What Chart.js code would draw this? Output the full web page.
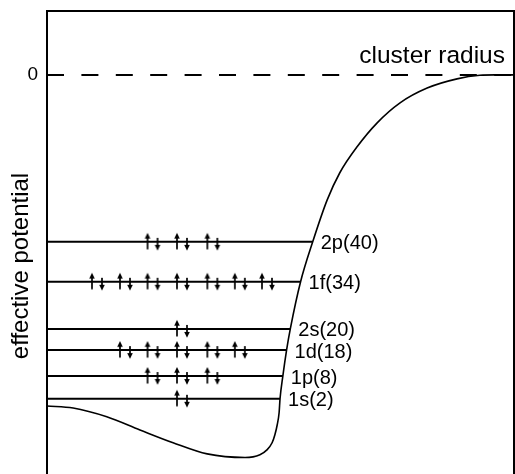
<!DOCTYPE html>
<html>
<head>
<meta charset="utf-8">
<script src="https://cdn.jsdelivr.net/npm/chart.js@4.4.0/dist/chart.umd.min.js"></script>
<style>
  html, body { margin: 0; padding: 0; background: #fff; overflow: hidden; }
  #wrap { width: 515px; height: 474px; overflow: hidden; }
</style>
</head>
<body>
<div id="wrap"><canvas id="myChart" width="515" height="521"></canvas></div>
<script>
// shells, lowest first
const levelNames = ['1s', '1p', '1d', '2s', '1f', '2p'];
const levelCounts = [2, 8, 18, 20, 34, 40];
const levelEnergy = [-81.1, -75.4, -68.9, -63.6, -51.8, -41.8];
const levelEdge = [49.9, 50.5, 51.3, 52.1, 54.3, 56.9];   // where the level meets the wall

// electron pairs drawn on each level (x positions)
const pairX = [
    [28.9],
    [22.6, 28.9, 35.4],
    [16.7, 22.6, 28.9, 35.4, 41.3],
    [28.9],
    [10.7, 16.7, 22.6, 28.9, 35.4, 41.3, 47.1],
    [22.6, 28.9, 35.4]
];

// effective potential vs radius
const radius = [0, 5.6, 12.8, 19.9, 27.0, 34.3, 42.4, 45.6, 47.1, 48.2, 48.8, 49.3, 49.7,
    49.9, 50.5, 51.3, 52.1, 54.3, 56.9, 60.0, 62.7, 66.4, 70.7, 75.6, 81.4, 87.8, 92.7, 95.9, 100];
const potential = [-82.9, -83.4, -85.6, -88.9, -92.1, -94.9, -95.8, -95.1, -93.9, -92.1, -90.1, -87.6, -84.6,
    -81.1, -75.4, -68.9, -63.6, -51.8, -41.8, -31.3, -24.5, -18.0, -12.0, -7.0, -3.3, -1.0, -0.1, 0, 0];

const yTicks = [0];
const FONT = "'Liberation Sans', Arial, sans-serif";

Chart.defaults.font.family = FONT;
Chart.defaults.color = '#000';

// the up/down arrow pair used as point style
function makePairIcon() {
    const c = document.createElement('canvas');
    c.width = 18;
    c.height = 20;
    const g = c.getContext('2d');
    g.strokeStyle = '#000';
    g.fillStyle = '#000';
    g.lineWidth = 1.7;
    // up arrow
    g.beginPath(); g.moveTo(4, 5); g.lineTo(4, 17.5); g.stroke();
    g.beginPath(); g.moveTo(4, 1); g.lineTo(1.2, 6.8); g.lineTo(6.8, 6.8); g.closePath(); g.fill();
    // down arrow
    g.beginPath(); g.moveTo(14, 6); g.lineTo(14, 14.5); g.stroke();
    g.beginPath(); g.moveTo(14, 18.8); g.lineTo(11.2, 13); g.lineTo(16.8, 13); g.closePath(); g.fill();
    return c;
}

const pairPoints = [];
pairX.forEach((xs, i) => xs.forEach(x => pairPoints.push({x: x, y: levelEnergy[i]})));

const datasets = [{
    label: 'pairs',
    data: pairPoints,
    showLine: false,
    pointStyle: makePairIcon(),
    pointRadius: 9
}];

levelNames.forEach((name, i) => {
    datasets.push({
        label: name,
        levelIndex: i,
        data: [{x: 0, y: levelEnergy[i]}, {x: levelEdge[i], y: levelEnergy[i]}],
        borderColor: '#000',
        borderWidth: 2,
        pointRadius: 0
    });
});

datasets.push({
    label: 'potential',
    data: radius.map((r, i) => ({x: r, y: potential[i]})),
    borderColor: '#000',
    borderWidth: 1.6,
    pointRadius: 0,
    cubicInterpolationMode: 'monotone'
});

datasets.push({
    label: 'zero',
    data: [{x: 0, y: 0}, {x: 100, y: 0}],
    borderColor: '#000',
    borderWidth: 2,
    borderDash: [17, 17.4],
    pointRadius: 0
});

const annotate = {
    id: 'annotate',
    beforeDatasetsDraw(chart) {
        const {ctx, chartArea: a} = chart;
        ctx.save();
        ctx.strokeStyle = '#000';
        ctx.lineWidth = 2;
        ctx.beginPath();
        ctx.moveTo(a.left, chart.height);
        ctx.lineTo(a.left, a.top);
        ctx.lineTo(a.right, a.top);
        ctx.lineTo(a.right, chart.height);
        ctx.stroke();
        ctx.restore();
    },
    afterDatasetsDraw(chart) {
        const {ctx, chartArea: a} = chart;
        ctx.save();
        ctx.fillStyle = '#000';
        ctx.font = '20px ' + FONT;
        ctx.textAlign = 'left';
        ctx.textBaseline = 'middle';
        chart.data.datasets.forEach((ds, di) => {
            if (ds.levelIndex === undefined) return;
            const pts = chart.getDatasetMeta(di).data;
            const last = pts[pts.length - 1];
            const i = ds.levelIndex;
            ctx.fillText(levelNames[i] + '(' + levelCounts[i] + ')', last.x + 8, last.y + 2);
        });
        ctx.font = '24.5px ' + FONT;
        ctx.textAlign = 'right';
        ctx.textBaseline = 'alphabetic';
        ctx.fillText('cluster radius', a.right - 9, chart.scales.y.getPixelForValue(0) - 12);
        ctx.restore();
    }
};

new Chart(document.getElementById('myChart'), {
    type: 'line',
    data: {datasets: datasets},
    plugins: [annotate],
    options: {
        responsive: false,
        animation: false,
        layout: {autoPadding: false, padding: {top: 11, right: 1, left: 0, bottom: 0}},
        plugins: {legend: {display: false}, tooltip: {enabled: false}},
        scales: {
            x: {type: 'linear', min: 0, max: 100, display: false},
            y: {
                min: -111.7,
                max: 16,
                afterBuildTicks: s => { s.ticks = yTicks.map(v => ({value: v})); },
                afterFit: s => {
                    s.width = 47;
                    s.paddingTop = 0;
                    s.paddingBottom = 0;
                },
                grid: {display: false, drawTicks: false},
                border: {display: false},
                ticks: {font: {size: 19}, padding: 9},
                title: {
                    display: true,
                    text: 'effective potential',
                    font: {size: 24},
                    padding: {top: 7, bottom: 0}
                }
            }
        }
    }
});
</script>
</body>
</html>
